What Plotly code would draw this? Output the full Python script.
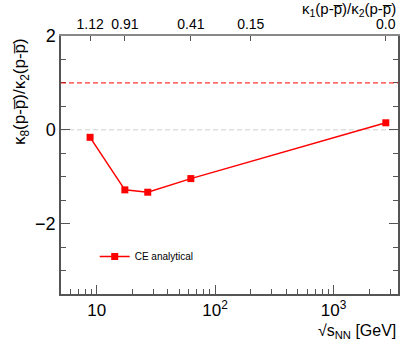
import plotly.graph_objects as go

# CE analytical points
sqrt_s = [8.8, 17.3, 27.0, 62.4, 2760.0]
k8_over_k2 = [-0.16, -1.28, -1.33, -1.04, 0.15]

# top axis: kappa1/kappa2 at given energies
top_tickvals = [8.8, 17.3, 62.4, 200.0, 2760.0]
top_ticktext = ["1.12", "0.91", "0.41", "0.15", "0.0"]

minor_x = [6, 7, 8, 9, 20, 30, 40, 50, 60, 70, 80, 90,
           200, 300, 400, 500, 600, 700, 800, 900, 2000, 3000]

pbar = "p\u0305"
font = "Liberation Sans, Arial, sans-serif"

fig = go.Figure()

fig.add_trace(go.Scatter(x = sqrt_s,
                         y = k8_over_k2,
                         mode = 'lines+markers',
                         name = 'CE analytical',
                         line = dict(color = '#ff0000', width = 1.5),
                         marker = dict(symbol = 'square', size = 7, color = '#ff0000')))

# invisible trace to hold the top axis
fig.add_trace(go.Scatter(x = sqrt_s, y = k8_over_k2, xaxis = 'x2',
                         mode = 'markers', marker = dict(opacity = 0),
                         showlegend = False, hoverinfo = 'skip'))

# reference lines
fig.add_shape(type = 'line', xref = 'paper', x0 = 0, x1 = 1, yref = 'y', y0 = 1, y1 = 1,
              line = dict(color = '#ff0000', width = 1, dash = '5px,3px'))
fig.add_shape(type = 'line', xref = 'paper', x0 = 0, x1 = 1, yref = 'y', y0 = 0, y1 = 0,
              line = dict(color = '#d0d0d0', width = 1, dash = '5px,3px'), layer = 'below')

fig.update_layout(
    width = 411, height = 348,
    margin = dict(l = 61, r = 13, t = 36, b = 54, autoexpand = False),
    paper_bgcolor = 'white',
    plot_bgcolor = 'white',
    font = dict(family = font, color = 'black'),
    xaxis = dict(type = 'log', range = [0.699, 3.544], automargin = False,
                 tickmode = 'array', tickvals = [10, 100, 1000],
                 ticktext = ["10", "10<sup>2</sup>", "10<sup>3</sup>"],
                 ticks = 'inside', ticklen = 9, tickcolor = '#555',
                 tickfont = dict(size = 17),
                 minor = dict(tickmode = 'array', tickvals = minor_x, ticks = 'inside',
                              ticklen = 5, tickcolor = '#555'),
                 showgrid = False, zeroline = False,
                 showline = True, linecolor = '#555', linewidth = 1.5),
    xaxis2 = dict(type = 'log', range = [0.699, 3.544], overlaying = 'x', side = 'top',
                  anchor = 'y', automargin = False,
                  tickmode = 'array', tickvals = top_tickvals, ticktext = top_ticktext,
                  ticks = 'inside', ticklen = 5, tickcolor = '#555',
                  tickfont = dict(size = 14),
                  showgrid = False, zeroline = False,
                  showline = True, linecolor = '#888', linewidth = 1.5),
    yaxis = dict(range = [-3.5, 2], automargin = False,
                 tickmode = 'array', tickvals = [-2, 0, 2],
                 ticktext = ["\u22122", "0", "2"],
                 ticks = 'inside', ticklen = 9, tickcolor = '#555',
                 tickfont = dict(size = 18),
                 minor = dict(tickmode = 'array', tickvals = [-3, -2.5, -1.5, -1, -0.5, 0.5, 1, 1.5],
                              ticks = 'inside', ticklen = 5, tickcolor = '#555'),
                 showgrid = False, zeroline = False, mirror = 'ticks',
                 showline = True, linecolor = '#555', linewidth = 1.5),
    showlegend = True,
    legend = dict(x = 0.1, y = 0.145, xanchor = 'left', yanchor = 'middle',
                  bgcolor = 'rgba(0,0,0,0)', font = dict(size = 10),
                  itemwidth = 30),
)

# axis titles as annotations
fig.add_annotation(xref = 'paper', yref = 'paper', x = 1.0, y = -0.1,
                   xanchor = 'right', yanchor = 'top', showarrow = False,
                   text = "\u221as<sub>NN</sub> [GeV]", font = dict(size = 16))
fig.add_annotation(xref = 'paper', yref = 'paper', x = 1.0, y = 1.06,
                   xanchor = 'right', yanchor = 'bottom', showarrow = False,
                   text = "\u03ba<sub>1</sub>(p-" + pbar + ")/\u03ba<sub>2</sub>(p-" + pbar + ")",
                   font = dict(size = 15))
fig.add_annotation(xref = 'paper', yref = 'paper', x = -0.12, y = 1.0,
                   xanchor = 'center', yanchor = 'top', showarrow = False, textangle = -90,
                   text = "\u03ba<sub>8</sub>(p-" + pbar + ")/\u03ba<sub>2</sub>(p-" + pbar + ")",
                   font = dict(size = 17))

fig.write_html("out.html", config = {'displayModeBar': False},
               post_script = "document.body.style.margin='0';")
